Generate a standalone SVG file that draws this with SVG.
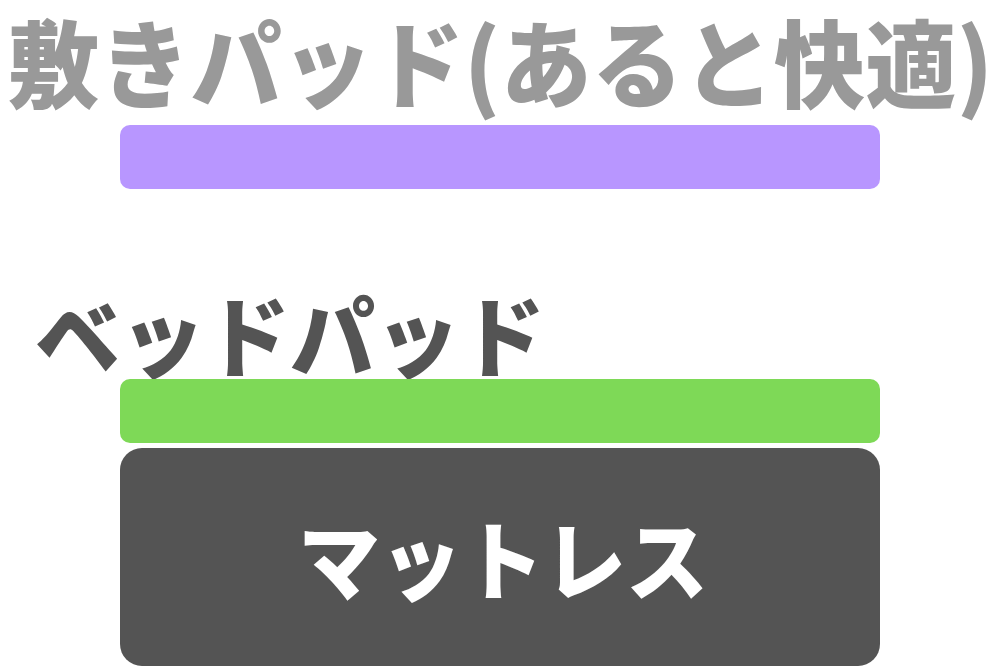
<svg xmlns="http://www.w3.org/2000/svg" width="1000" height="667" viewBox="0 0 1000 667">
<style>
.t{font-family:"Noto Sans CJK JP","Noto Sans",sans-serif;font-weight:900}
</style>
<rect width="1000" height="667" fill="#ffffff"/>
<g id="title"><text class="t" x="8" y="101" font-size="95" textLength="985" lengthAdjust="spacingAndGlyphs" fill="#999999">敷きパッド(あると快適)</text></g>
<g id="shikipad"><rect x="120" y="125" width="760" height="64" rx="10" fill="#b896ff"/></g>
<g id="bedpad-label"><text class="t" x="35" y="370" font-size="88" textLength="510" lengthAdjust="spacingAndGlyphs" fill="#545454">ベッドパッド</text></g>
<g id="bedpad"><rect x="120" y="379" width="760" height="64" rx="10" fill="#7ed957"/></g>
<g id="mattress"><rect x="120" y="448" width="760" height="218" rx="22" fill="#545454"/>
<text class="t" x="298" y="594" font-size="86" textLength="410" lengthAdjust="spacingAndGlyphs" fill="#ffffff">マットレス</text></g>
<g id="connectors"/>
</svg>
